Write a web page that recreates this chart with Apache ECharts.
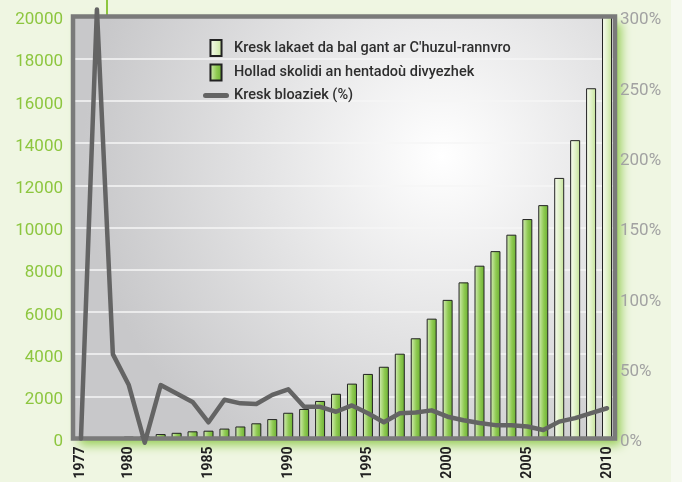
<!DOCTYPE html>
<html>
<head>
<meta charset="utf-8">
<script src="https://cdn.jsdelivr.net/npm/echarts@6/dist/echarts.min.js"></script>
<style>
    html, body { margin: 0; padding: 0; background: #eff6e2; }
    #chart { width: 682px; height: 482px; }
</style>
</head>
<body>
<div id="chart"></div>
<script>

const years = [
    '1977', '1978', '1979', '1980', '1981', '1982', '1983', '1984', '1985', '1986',
    '1987', '1988', '1989', '1990', '1991', '1992', '1993', '1994', '1995', '1996',
    '1997', '1998', '1999', '2000', '2001', '2002', '2003', '2004', '2005', '2006',
    '2007', '2008', '2009', '2010',
];

// Hollad skolidi an hentadoù divyezhek, 1977 - 2006
const hollad = [
    0, 40, 60, 90, 110, 210, 270, 340, 370, 470,
    570, 720, 920, 1220, 1400, 1780, 2120, 2600, 3060, 3400,
    4020, 4750, 5680, 6570, 7400, 8190, 8880, 9660, 10400, 11060,
];

// Kresk lakaet da bal gant ar C'huzul-rannvro, 2007 - 2010
const lakaet = [12350, 14140, 16600, 20000];

// Kresk bloaziek (%)
const kresk = [
    0, 305, 60, 38, -3, 38, 32, 26, 11.5, 27.5,
    25, 24.5, 31, 35, 22.5, 22.5, 19, 23.5, 18, 11.5,
    18, 18.5, 20, 15.5, 13, 11, 9.5, 9.5, 8.5, 6,
    12, 14.5, 18, 21.5,
];

const names = [
    'Kresk lakaet da bal gant ar C\'huzul-rannvro',
    'Hollad skolidi an hentadoù divyezhek',
    'Kresk bloaziek (%)',
];

const holladData = years.map((y, i) => (i < hollad.length ? hollad[i] : '-'));
const lakaetData = years.map((y, i) => {
    const j = i - (years.length - lakaet.length);
    return j >= 0 ? lakaet[j] : '-';
});

const greenFill = {
    type: 'linear', x: 0, y: 0, x2: 1, y2: 0,
    colorStops: [
        { offset: 0, color: '#d8eebb' },
        { offset: 0.55, color: '#8fca52' },
        { offset: 1, color: '#6aaf30' },
    ],
};

const lightFill = {
    type: 'linear', x: 0, y: 0, x2: 1, y2: 0,
    colorStops: [
        { offset: 0, color: '#fafdf3' },
        { offset: 0.6, color: '#dcefc0' },
        { offset: 1, color: '#c2e194' },
    ],
};

const barIcon = 'path://M0 0H9V13H0Z';
const lineIcon = 'path://M2.5 0H23.5A2.5 2.5 0 0 1 23.5 5H2.5A2.5 2.5 0 0 1 2.5 0Z';

// plot frame, same box as the grid
const frame = { left: 73, top: 16.5, right: 615, bottom: 438.5 };

// nudge axis labels a little below their tick, as in the original
const lowered = (text) => `{t|${text}}`;

const chart = echarts.init(document.getElementById('chart'));

chart.setOption({
    backgroundColor: '#eff6e2',
    animation: false,
    graphic: [
        {
            type: 'rect',
            shape: { x: 671, y: 0, width: 11, height: 482 },
            style: { fill: '#f6f9f0' },
            z: -10,
        },
        {
            type: 'line',
            shape: { x1: 107, y1: 0, x2: 107, y2: 15 },
            style: { stroke: '#8dc63f', lineWidth: 2 },
        },
        {
            type: 'rect',
            shape: {
                x: frame.left,
                y: frame.top,
                width: frame.right - frame.left,
                height: frame.bottom - frame.top,
            },
            style: { fill: null, stroke: '#7a7a7a', lineWidth: 4.5 },
            z: 3,
        },
    ],
    grid: {
        left: frame.left,
        right: 682 - frame.right,
        top: frame.top,
        bottom: 482 - frame.bottom,
        show: true,
        borderWidth: 0,
        backgroundColor: {
            type: 'radial', x: 0.68, y: 0.33, r: 0.85,
            colorStops: [
                { offset: 0, color: '#ffffff' },
                { offset: 1, color: '#c8c8ca' },
            ],
        },
        shadowColor: 'rgba(140, 200, 70, 0.9)',
        shadowBlur: 10,
        shadowOffsetX: 6,
        shadowOffsetY: 6,
    },
    legend: {
        orient: 'vertical',
        left: 198,
        top: 34,
        itemWidth: 26,
        itemHeight: 16,
        itemGap: 6.5,
        data: [
            { name: names[0], icon: barIcon },
            { name: names[1], icon: barIcon },
            { name: names[2], icon: lineIcon },
        ],
        textStyle: {
            fontFamily: 'Roboto',
            fontSize: 14.5,
            fontWeight: 500,
            color: '#2e2e2e',
        },
    },
    xAxis: {
        type: 'category',
        data: years,
        axisLine: { show: false },
        axisTick: { show: false },
        axisLabel: {
            rotate: 90,
            margin: 8,
            interval: (i, v) => v === '1977' || Number(v) % 5 === 0,
            fontFamily: 'Roboto',
            fontWeight: 'bold',
            fontSize: 14,
            color: '#222',
        },
    },
    yAxis: [
        {
            type: 'value',
            min: 0,
            max: 20000,
            interval: 2000,
            axisLine: { show: false },
            axisTick: { show: false },
            axisLabel: {
                margin: 10,
                formatter: (v) => lowered(String(v)),
                rich: {
                    t: {
                        padding: [7, 0, 0, 0],
                        fontFamily: 'Roboto',
                        fontSize: 17,
                        color: '#8dc63f',
                    },
                },
            },
            splitLine: { lineStyle: { color: '#f6f6f6', width: 1.5 } },
        },
        {
            type: 'value',
            min: 0,
            max: 300,
            interval: 50,
            axisLine: { show: false },
            axisTick: { show: false },
            axisLabel: {
                margin: 5,
                formatter: (v) => lowered(v + '%'),
                rich: {
                    t: {
                        padding: [7, 0, 0, 0],
                        fontFamily: 'Roboto',
                        fontSize: 17,
                        color: '#a2a2a2',
                    },
                },
            },
            splitLine: { show: false },
        },
    ],
    series: [
        {
            name: names[0],
            type: 'bar',
            data: lakaetData,
            barWidth: 10,
            barGap: '-100%',
            itemStyle: { color: lightFill, borderColor: '#222', borderWidth: 1 },
        },
        {
            name: names[1],
            type: 'bar',
            data: holladData,
            barWidth: 10,
            barGap: '-100%',
            itemStyle: { color: greenFill, borderColor: '#222', borderWidth: 1 },
        },
        {
            name: names[2],
            type: 'line',
            yAxisIndex: 1,
            data: kresk,
            symbol: 'none',
            clip: false,
            z: 5,
            itemStyle: { color: '#646464' },
            lineStyle: { color: '#646464', width: 4.5, join: 'round', cap: 'round' },
        },
    ],
});

</script>
</body>
</html>
